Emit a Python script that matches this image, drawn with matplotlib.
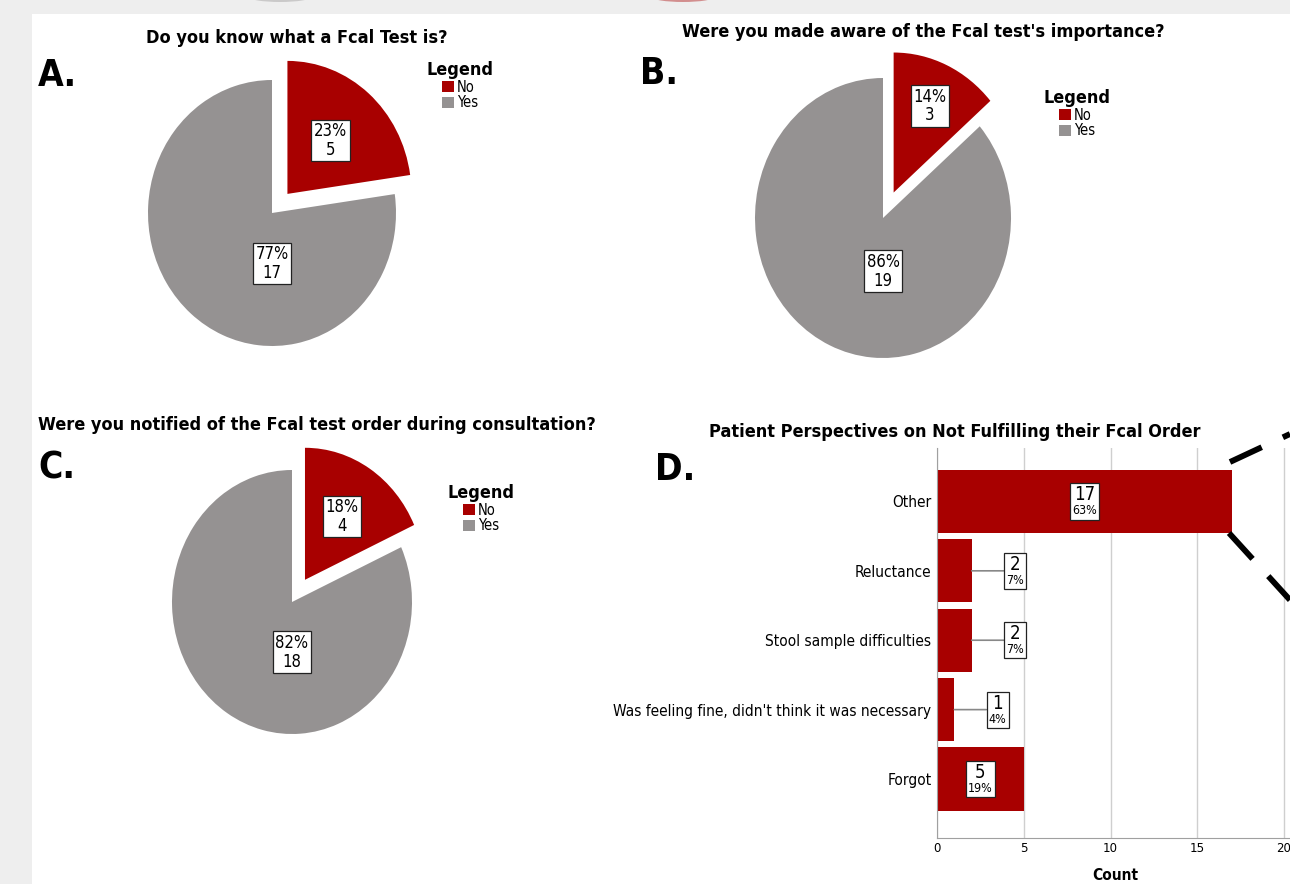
import numpy as np
import matplotlib
matplotlib.use("Agg")
import matplotlib.pyplot as plt
from matplotlib import font_manager as fm
from matplotlib.patches import Rectangle, Patch, Ellipse
from matplotlib.lines import Line2D
from matplotlib.offsetbox import TextArea, VPacker, AnnotationBbox

plt.rcParams['font.family'] = ['DejaVu Sans']
# use the condensed cut if the system has it
cond_path = fm.findfont(fm.FontProperties(family='DejaVu Sans', stretch='condensed'))
if 'Condensed' in cond_path:
    plt.rcParams['font.stretch'] = 'condensed'
    k = 1 / 0.9
else:
    k = 1.0

W, H = 1290, 884
RED = '#a80000'
GREY = '#959292'

# pie data: [No, Yes]
pie_labels = ['No', 'Yes']
known_counts = [5, 17]
aware_counts = [3, 19]
notified_counts = [4, 18]

# bar data (top to bottom as shown)
reasons = ['Other', 'Reluctance', 'Stool sample difficulties',
           "Was feeling fine, didn't think it was necessary", 'Forgot']
reason_counts = [17, 2, 2, 1, 5]
reason_pcts = ['63%', '7%', '7%', '4%', '19%']

fig = plt.figure(figsize=(W / 100, H / 100), dpi=100)
fig.patch.set_facecolor('#eeeeee')
fig.add_artist(Rectangle((32 / W, 0), 1 - 32 / W, 1 - 14 / H, transform=fig.transFigure,
                         facecolor='white', edgecolor='none', zorder=-10))
# bits of the previous figure peeking in at the top edge
for cx, col in [(280, GREY), (683, RED)]:
    fig.add_artist(Ellipse((cx / W, 1 + 3 / H), 62 / W, 10 / H, transform=fig.transFigure,
                           facecolor=col, edgecolor='none', alpha=0.4, zorder=-5))


def fx(px):
    return px / W


def fy(py):
    return 1 - py / H


def pie_panel(counts, cx, cy, rx, ry, leg_x, leg_y, explode=0.19, lab_d=0.58):
    m = 1.35
    ax = fig.add_axes([fx(cx - m * rx), fy(cy + m * ry), 2 * m * rx / W, 2 * m * ry / H])
    ax.pie(counts, colors=[RED, GREY], startangle=90, counterclock=False,
           explode=[explode, 0], wedgeprops=dict(linewidth=0))
    ax.set_aspect('auto')
    ax.set_xlim(-m, m)
    ax.set_ylim(-m, m)
    ax.axis('off')
    total = sum(counts)
    pcts = [round(100 * c / total) for c in counts]
    theta = np.deg2rad(90 - 180 * counts[0] / total)
    box = dict(boxstyle='square,pad=0.15', fc='white', ec='#222222', lw=0.9)
    d = explode + lab_d
    ax.text(d * np.cos(theta), d * np.sin(theta), f'{pcts[0]}%\n{counts[0]}',
            ha='center', va='center', fontsize=10.8 * k, linespacing=1.05, bbox=box)
    ax.text(0, -0.38, f'{pcts[1]}%\n{counts[1]}',
            ha='center', va='center', fontsize=10.8 * k, linespacing=1.05, bbox=box)
    handles = [Patch(facecolor=RED), Patch(facecolor=GREY)]
    fig.legend(handles, pie_labels, title='Legend', loc='upper center',
               bbox_to_anchor=(fx(leg_x), fy(leg_y)), frameon=False,
               fontsize=9.5 * k, title_fontproperties=dict(weight='bold', size=11.6 * k),
               handlelength=0.8, handleheight=0.8, handletextpad=0.2,
               labelspacing=0.05, borderpad=0, borderaxespad=0)
    return ax


pie_panel(known_counts, 272, 213, 124, 133, 460, 61, lab_d=0.53)
pie_panel(aware_counts, 883, 218, 128, 140, 1077, 89, explode=0.2, lab_d=0.68)
pie_panel(notified_counts, 292, 602, 120, 132, 481, 484, explode=0.2, lab_d=0.57)

# titles and panel letters
ts = 11.7 * k
fig.text(fx(297), fy(38), 'Do you know what a Fcal Test is?', ha='center', va='center',
         fontsize=ts, fontweight='bold')
fig.text(fx(923), fy(32), "Were you made aware of the Fcal test's importance?", ha='center',
         va='center', fontsize=ts, fontweight='bold')
fig.text(fx(38), fy(425), 'Were you notified of the Fcal test order during consultation?',
         ha='left', va='center', fontsize=ts, fontweight='bold')
fig.text(fx(955), fy(432), 'Patient Perspectives on Not Fulfilling their Fcal Order',
         ha='center', va='center', fontsize=ts, fontweight='bold')
for letter, x, y in [('A.', 38, 75), ('B.', 640, 73), ('C.', 38, 468), ('D.', 655, 470)]:
    fig.text(fx(x), fy(y), letter, ha='left', va='center', fontsize=24 * k, fontweight='bold')

# bar chart
px_per_unit = 17.35
x_max = 20.6
axb = fig.add_axes([fx(937), fy(838), x_max * px_per_unit / W, (838 - 448) / H])
ypos = np.arange(len(reasons))[::-1]
axb.barh(ypos, reason_counts, height=0.91, color=RED, zorder=2)
axb.set_xlim(0, x_max)
axb.set_ylim(-0.85, 4.77)
axb.set_yticks(ypos)
axb.set_yticklabels(reasons)
axb.set_xticks([0, 5, 10, 15, 20])
axb.tick_params(axis='both', length=0)
axb.tick_params(axis='x', labelsize=8.5 * k, pad=3)
axb.tick_params(axis='y', labelsize=10 * k, pad=4)
axb.grid(axis='x', color='#cfcfcf', lw=1, zorder=0)
for s in ['top', 'right']:
    axb.spines[s].set_visible(False)
for s in ['left', 'bottom']:
    axb.spines[s].set_color('#a0a0a0')
axb.set_xlabel('Count', fontsize=10 * k, fontweight='bold', labelpad=9)
axb.set_facecolor('none')

for y, v, p in zip(ypos, reason_counts, reason_pcts):
    pack = VPacker(children=[TextArea(str(v), textprops=dict(fontsize=12 * k)),
                             TextArea(p, textprops=dict(fontsize=8 * k))],
                   align='center', pad=0, sep=0)
    if v >= 5:
        ab = AnnotationBbox(pack, (v / 2, y), xycoords='data', frameon=True, pad=0.15,
                            bboxprops=dict(fc='white', ec='#222222', lw=0.9), zorder=3)
    else:
        ab = AnnotationBbox(pack, (v, y), xybox=(v + 2.5, y), xycoords='data',
                            boxcoords='data', frameon=True, pad=0.15,
                            bboxprops=dict(fc='white', ec='#222222', lw=0.9),
                            arrowprops=dict(arrowstyle='-', color='#888888', lw=1.2,
                                            shrinkA=0, shrinkB=0), zorder=3)
    axb.add_artist(ab)

# dashed zoom lines
for xs, ys in [([1230, 1290], [462, 434]), ([1229, 1290], [533, 600])]:
    fig.add_artist(Line2D([fx(x) for x in xs], [fy(y) for y in ys], transform=fig.transFigure,
                          color='black', lw=4.2, dashes=(6, 4), solid_capstyle='butt'))

fig.savefig('out.png', dpi=100)
